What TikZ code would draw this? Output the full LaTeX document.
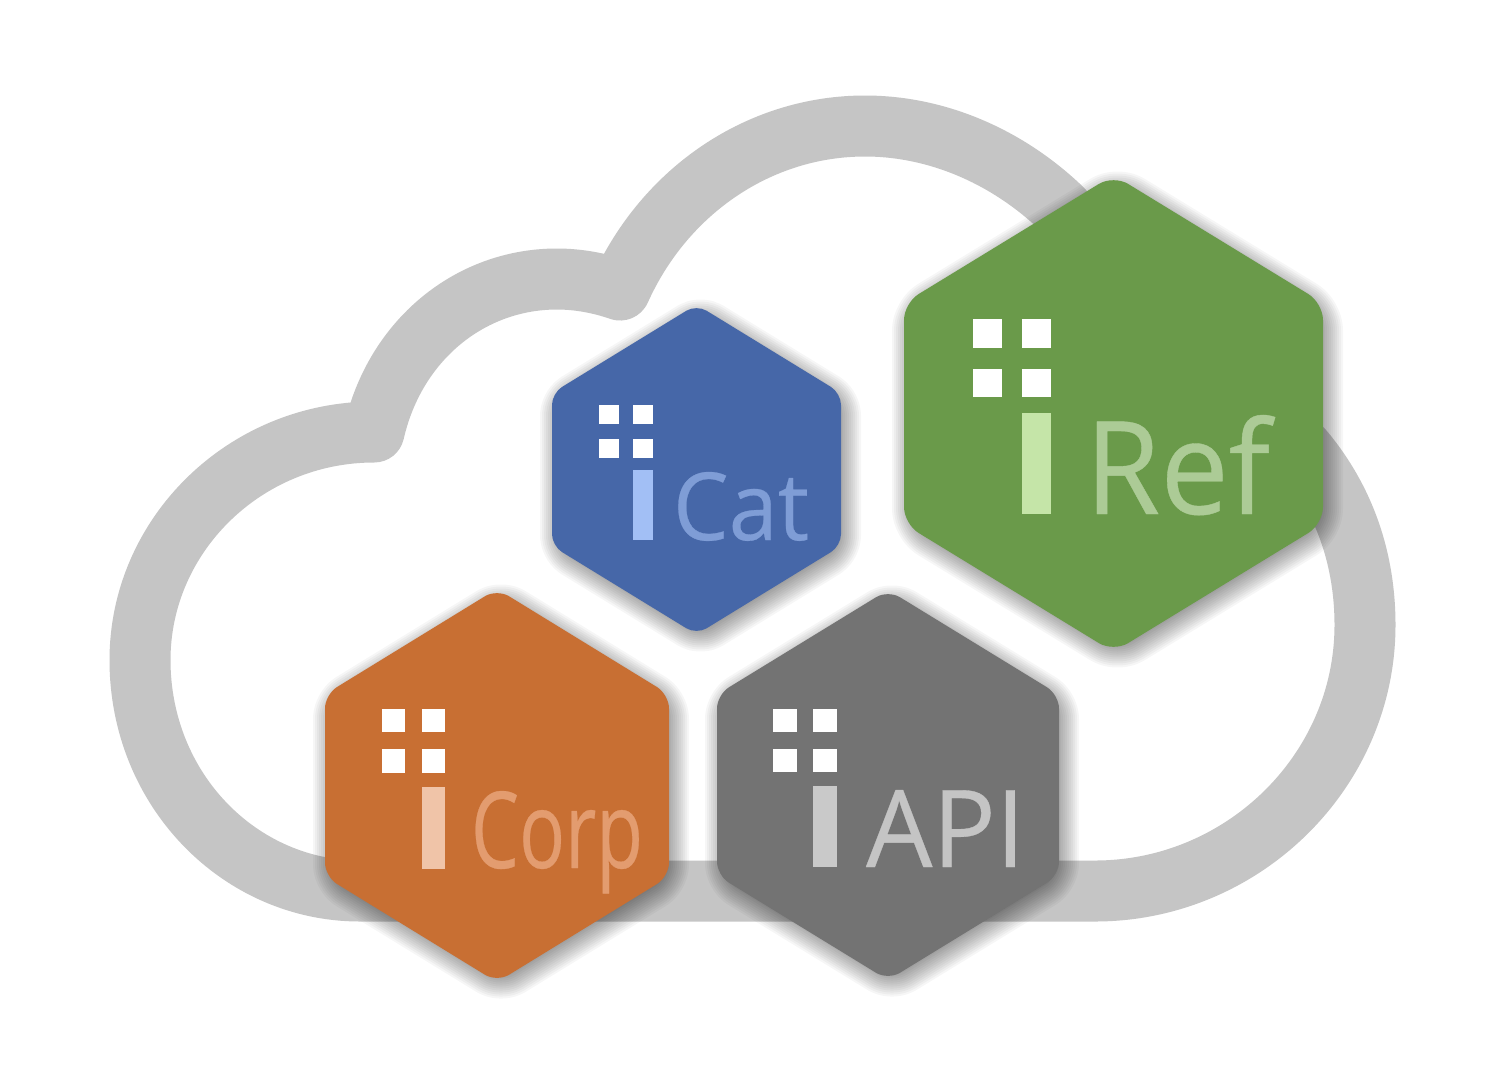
\documentclass[tikz,border=0pt]{standalone}
\usepackage{fontspec}
\usepackage{graphicx}
\setmainfont{Open Sans}
\newfontfamily\wordfont{Open Sans}[FakeBold=0.3]
\definecolor{cloudgray}{HTML}{C5C5C5}
\definecolor{refbg}{HTML}{6A9A4A}\definecolor{refstem}{HTML}{C5E5A8}\definecolor{reftext}{HTML}{ACCB96}
\definecolor{catbg}{HTML}{4667A8}\definecolor{catstem}{HTML}{A2BFF5}\definecolor{cattext}{HTML}{7F9DD6}
\definecolor{corpbg}{HTML}{C86F33}\definecolor{corpstem}{HTML}{F0C4A8}\definecolor{corptext}{HTML}{E39C6F}
\definecolor{apibg}{HTML}{737373}\definecolor{apistem}{HTML}{C9C9C9}\definecolor{apitext}{HTML}{C4C4C4}
\tikzset{
  cloudline/.style={draw=cloudgray,line width=30.5pt,line join=round},
  squarefill/.style={fill=white},
  wordlabel/.style={anchor=base west,inner sep=0pt,outer sep=0pt,font=\wordfont}
}
% \hexa{x left}{x right}{y top}{y bottom}{colour}
\newcommand{\hexa}[5]{%
  \pgfmathsetmacro{\hxc}{(#1+#2)/2}%
  \pgfmathsetmacro{\hyc}{(#3+#4)/2}%
  \pgfmathsetmacro{\hh}{(#4-#3)*1.0214/2}%
  \pgfmathsetmacro{\hs}{\hh*0.4633}%
  \pgfmathsetmacro{\hr}{8.5*(#2-#1)/419}%
  % inset base of the soft shadow
  \pgfmathsetmacro{\sl}{#1+8}\pgfmathsetmacro{\sr}{#2-8}%
  \pgfmathsetmacro{\shh}{\hh-9.3}\pgfmathsetmacro{\shs}{\hs-4.3}%
  \foreach \lw in {24,22,20,18,16,14,12,10,8,6,4,2}{%
    \draw[shift={(4,6)},fill=black,draw=black,opacity=0.035,line join=round,line width=\lw pt,rounded corners=\hr pt]
      (\hxc,\hyc-\shh) -- (\sr,\hyc-\shs) -- (\sr,\hyc+\shs) -- (\hxc,\hyc+\shh) -- (\sl,\hyc+\shs) -- (\sl,\hyc-\shs) -- cycle;
  }%
  \fill[#5,rounded corners=\hr pt]
      (\hxc,\hyc-\hh) -- (#2,\hyc-\hs) -- (#2,\hyc+\hs) -- (\hxc,\hyc+\hh) -- (#1,\hyc+\hs) -- (#1,\hyc-\hs) -- cycle;
}
% x1 x2 x3 x4 y1 y2 y3 y4 stemcolour
\newcommand{\logomark}[9]{%
  \fill[squarefill] (#1,#5) rectangle (#2,#6);
  \fill[squarefill] (#3,#5) rectangle (#4,#6);
  \fill[squarefill] (#1,#7) rectangle (#2,#8);
  \fill[squarefill] (#3,#7) rectangle (#4,#8);
  \fill[#9] (#3,\stemtop) rectangle (#4,\stembot);
}
\begin{document}
\begin{tikzpicture}[x=0.5pt,y=-0.5pt]
\useasboundingbox (0,0) rectangle (1500,1078);
\fill[white] (0,0) rectangle (1500,1078);
% cloud
\draw[cloudline]
  (1095,891) .. controls (1242,891) and (1365,772) .. (1365,625)
  .. controls (1365,560) and (1345,500) .. (1303,450)
  -- (1150,300) -- (1060,207)
  .. controls (1005,155) and (935,126) .. (865,126)
  .. controls (760,126) and (665,190) .. (620,290)
  .. controls (600,283) and (578,279) .. (557,279)
  .. controls (470,279) and (395,340) .. (374,432)
  .. controls (245,432) and (140,535) .. (140,660)
  .. controls (140,790) and (240,891) .. (360,891)
  -- cycle;
% hexagons
\hexa{904}{1323}{180}{647}{refbg}
\hexa{552}{841}{308}{631}{catbg}
\hexa{325}{669}{593}{978}{corpbg}
\hexa{717}{1059}{594}{976}{apibg}
% Ref
\def\stemtop{413}\def\stembot{514}
\logomark{973}{1001.5}{1022}{1051}{319}{348}{369}{397}{refstem}
\node[wordlabel,text=reftext] (reflabel) at (1085,514) {\resizebox{92.5pt}{49.5pt}{Ref}};
% Cat
\def\stemtop{470}\def\stembot{540}
\logomark{599}{619}{633}{653}{405}{424}{439}{458}{catstem}
\node[wordlabel,text=cattext] (catlabel) at (673,540) {\resizebox{68pt}{34pt}{Cat}};
% Corp
\def\stemtop{787}\def\stembot{869}
\logomark{382}{405}{422}{445}{709}{732}{749}{773}{corpstem}
\node[wordlabel,text=corptext] (corplabel) at (471,868) {\resizebox{86pt}{38.5pt}{Corp}};
% API
\def\stemtop{786}\def\stembot{867}
\logomark{773}{797}{813}{837}{709}{732}{749}{772}{apistem}
\node[wordlabel,text=apitext] (apilabel) at (866,867) {\resizebox{79.5pt}{38.5pt}{API}};
\end{tikzpicture}
\end{document}
